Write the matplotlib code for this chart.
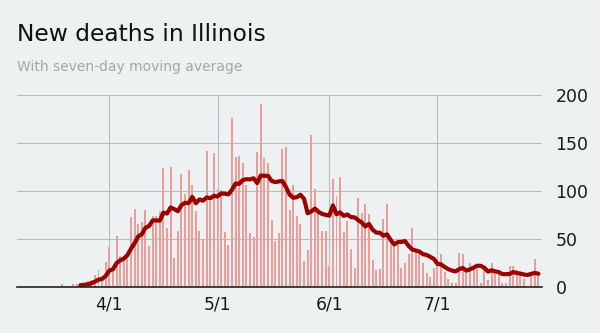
import matplotlib
matplotlib.use("Agg")
import matplotlib.pyplot as plt
import matplotlib.dates as mdates
import pandas as pd
import numpy as np

# Daily new COVID-19 deaths reported in Illinois, March 18 - July 29, 2020
start_date = "2020-03-18"
new_deaths = [
    0, 3, 1, 1, 3, 3, 4, 3, 7, 8, 13, 18, 8, 26,            # Mar 18 - Mar 31
    42, 16, 53, 33, 31, 33, 73, 82, 66, 68, 81, 43, 74, 74,  # Apr 1 - Apr 14
    80, 124, 62, 125, 31, 59, 118, 97, 122, 107, 79, 59, 50,  # Apr 15 - Apr 27
    142, 90, 140,                                             # Apr 28 - Apr 30
    102, 101, 58, 44, 176, 136, 137, 130, 107, 57, 52, 141,   # May 1 - May 12
    191, 135, 130, 70, 48, 57, 144, 146, 81, 107, 74, 66,     # May 13 - May 24
    27, 39, 159, 102, 83, 59, 59,                             # May 25 - May 31
    22, 113, 95, 115, 58, 69, 40, 20, 93, 77, 87, 76, 28, 18, # Jun 1 - Jun 14
    19, 71, 87, 47, 43, 44, 20, 25, 35, 62, 39, 35, 25, 15,   # Jun 15 - Jun 28
    11, 20,                                                   # Jun 29 - Jun 30
    26, 35, 16, 9, 5, 5, 36, 35, 16, 25, 21, 19, 5, 21, 8,    # Jul 1 - Jul 15
    25, 17, 16, 4, 5, 22, 22, 18, 13, 9, 1, 13, 29, 16,       # Jul 16 - Jul 29
]
month_ticks = ["2020-04-01", "2020-05-01", "2020-06-01", "2020-07-01"]
month_labels = ["4/1", "5/1", "6/1", "7/1"]
y_ticks = [0, 50, 100, 150, 200]

dates = pd.date_range(start_date, periods=len(new_deaths), freq="D")
avg7 = pd.Series(new_deaths, index=dates).rolling(7).mean()

BG = "#edf1f2"
BAR = "#eb9d9c"
LINE = "#990000"
GRID = "#bcbcbc"

plt.rcParams["font.family"] = ["DejaVu Sans"]

fig = plt.figure(figsize=(6.0, 3.33), dpi=100, facecolor=BG)
ax = fig.add_axes([17 / 600, 45.7 / 333, 524.7 / 600, 192 / 333], facecolor=BG)

ax.bar(dates, new_deaths, width=0.55, color=BAR, zorder=2)
ax.plot(avg7.index, avg7.values, color=LINE, lw=3.0, solid_joinstyle="round",
        solid_capstyle="round", zorder=3)

x0 = mdates.date2num(pd.Timestamp("2020-04-01"))
ax.set_xlim(x0 - 25.6, x0 + 119.9)
ax.set_ylim(0, 200)

for spine in ("left", "right", "top"):
    ax.spines[spine].set_visible(False)
ax.spines["bottom"].set_color("#222222")
ax.spines["bottom"].set_linewidth(1.2)
ax.spines["bottom"].set_zorder(4)

ax.set_yticks(y_ticks)
ax.set_yticklabels([str(v) for v in y_ticks])
ax.yaxis.tick_right()
ax.tick_params(axis="y", length=0, pad=10, labelsize=12.5, labelcolor="#1a1a1a")

ax.set_xticks([mdates.date2num(pd.Timestamp(t)) for t in month_ticks])
ax.set_xticklabels(month_labels)
ax.tick_params(axis="x", length=0, pad=6, labelsize=12.3, labelcolor="#1a1a1a")

ax.grid(True, axis="both", color=GRID, lw=0.8, zorder=0)
ax.set_axisbelow(True)

fig.text(17 / 600, 1 - 40.7 / 333, "New deaths in Illinois", fontsize=16.8,
         color="#111111", va="baseline", ha="left")
fig.text(17 / 600, 1 - 71 / 333, "With seven-day moving average", fontsize=10,
         color="#a6a6a6", va="baseline", ha="left")

fig.savefig("out.png", dpi=100, facecolor=BG)
